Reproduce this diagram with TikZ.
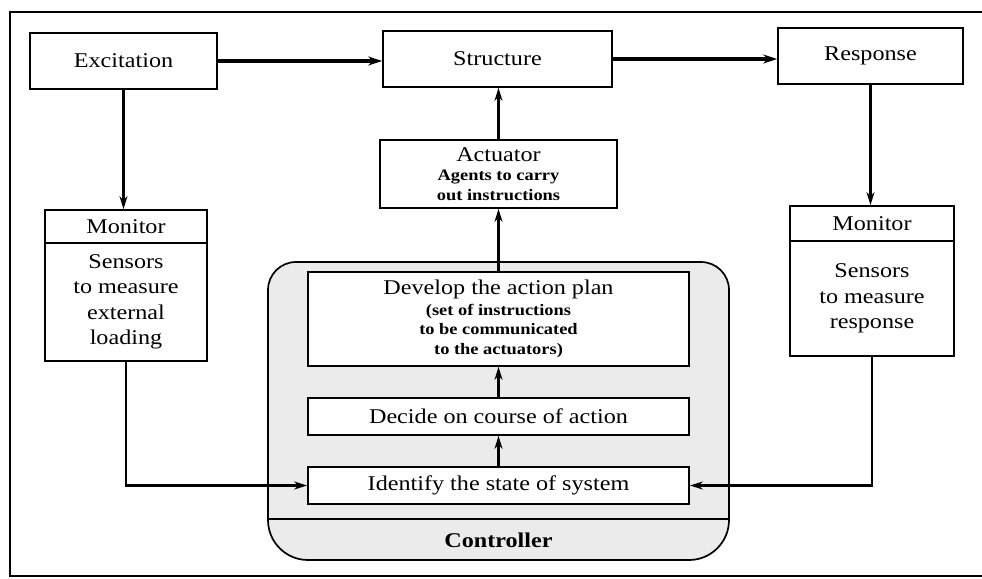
\documentclass[tikz,border=0pt]{standalone}
\usepackage{fontspec}
\setmainfont{Liberation Serif}[FakeStretch=1.15]
\usetikzlibrary{arrows.meta}
\newcommand\smallbf{\fontsize{16}{20}\bfseries\selectfont}
\begin{document}
\begin{tikzpicture}[x=1pt,y=-1pt,
  box/.style={draw, line width=1.7pt, inner sep=0pt, align=center, fill=white,
    font=\fontsize{21}{25.5}\selectfont},
  arr/.style={line width=2.6pt, -{Stealth[length=13pt,width=8pt]}},
  thickarr/.style={line width=3.4pt, -{Stealth[length=14pt,width=9pt]}},
  ctrlbox/.style={draw, line width=1.7pt, fill=black!8}]
\useasboundingbox (0,0) rectangle (982,578);
% outer frame
\draw[line width=2.8pt] (10,12) rectangle (990,576);

% top row
\node[box, minimum width=187pt, minimum height=56pt] (exc) at (123.5,61) {Excitation};
\node[box, minimum width=229pt, minimum height=56pt] (str) at (497.5,59) {Structure};
\node[box, minimum width=185pt, minimum height=56pt] (resp) at (870.5,56) {Response};

% actuator
\node[box, minimum width=237pt, minimum height=68pt] (act) at (498.5,174)
  {Actuator\\[-6pt]\smallbf Agents to carry\\[-6pt]\smallbf out instructions};

% monitors
\node[box, minimum width=162pt, minimum height=33pt] (monLh) at (126,226.5) {Monitor};
\node[box, minimum width=162pt, minimum height=118pt] (monLb) at (126,302)
  {Sensors\\to measure\\external\\loading};
\node[box, minimum width=164pt, minimum height=35pt] (monRh) at (872,223.5) {Monitor};
\node[box, minimum width=164pt, minimum height=115pt] (monRb) at (872,298.5)
  {Sensors\\to measure\\response};

% controller container
\draw[ctrlbox] (268,400) [rounded corners=28pt] |- (498,262) -| (729,400)
  [rounded corners=40pt] |- (498,560) -| cycle;
\draw[line width=1.7pt] (268,519) -- (729,519);
\node[font=\fontsize{21}{25}\selectfont\bfseries] (ctrl) at (498.5,540) {Controller};

\node[box, minimum width=381pt, minimum height=94pt] (dev) at (498.5,319)
  {Develop the action plan\\[-5pt]\smallbf (set of instructions\\[-6pt]\smallbf to be communicated\\[-6pt]\smallbf to the actuators)};
\node[box, minimum width=381pt, minimum height=37pt] (dec) at (498.5,416.5) {Decide on course of action};
\node[box, minimum width=381pt, minimum height=37pt] (ide) at (498.5,485.5) {Identify the state of system};

% connectors
\draw[thickarr] (exc.east) -- (exc.east -| str.west);
\draw[thickarr] (str.east) -- (str.east -| resp.west);
\draw[arr] (exc.south) -- (exc.south |- monLh.north);
\draw[arr] (resp.south) -- (resp.south |- monRh.north);
\draw[arr] (act.north) -- (act.north |- str.south);
\draw[arr] (dev.north) -- (act.south);
\draw[arr] (dec.north) -- (dev.south);
\draw[arr] (ide.north) -- (dec.south);
\draw[arr] (monLb.south) |- (ide.west);
\draw[arr] (monRb.south) |- (ide.east);
\end{tikzpicture}
\end{document}
